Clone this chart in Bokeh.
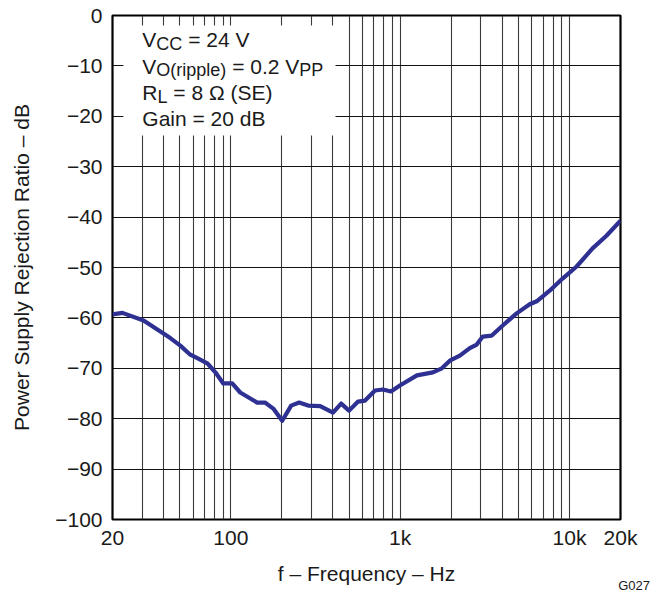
from bokeh.plotting import figure
from bokeh.layouts import column
from bokeh.models import Range1d, FixedTicker, Label, BoxAnnotation, Div
from bokeh.embed import file_html
from bokeh.resources import INLINE

# ---- data ----
freq_hz = [20, 22.9, 30.5, 36.8, 43.9, 50.3, 57.6, 63.4, 72.6, 81, 90.2, 101.9,
           113.6, 143, 159, 178, 201, 227, 253, 286, 337, 401, 448, 499, 564,
           620, 710, 791, 882, 996, 1256, 1560, 1762, 1964, 2250, 2577, 2832,
           3074, 3476, 4032, 4872, 5818, 6400, 7632, 9100, 11012, 13680, 16520,
           20000]
psrr_db = [-59.3, -59.0, -60.5, -62.3, -64.0, -65.5, -67.3, -68.0, -69.0, -70.8,
           -73.0, -73.0, -74.8, -76.8, -76.8, -78.0, -80.4, -77.4, -76.8, -77.4,
           -77.5, -78.8, -77.0, -78.4, -76.6, -76.4, -74.4, -74.2, -74.6, -73.4,
           -71.4, -70.8, -70.0, -68.5, -67.5, -66.0, -65.3, -63.7, -63.5, -61.5,
           -59.1, -57.3, -56.7, -54.6, -52.2, -49.8, -46.2, -43.7, -40.7]

x_tick_values = [20, 100, 1000, 10000, 20000]
x_tick_labels = ["20", "100", "1k", "10k", "20k"]
x_grid_values = [20, 30, 40, 50, 60, 70, 80, 90,
                 100, 200, 300, 400, 500, 600, 700, 800, 900,
                 1000, 2000, 3000, 4000, 5000, 6000, 7000, 8000, 9000,
                 10000, 20000]
y_tick_values = [-100, -90, -80, -70, -60, -50, -40, -30, -20, -10, 0]
y_tick_labels = ["\u2212100", "\u221290", "\u221280", "\u221270", "\u221260",
                 "\u221250", "\u221240", "\u221230", "\u221220", "\u221210", "0"]

FONT = "Liberation Sans"
F = 21   # main font px
S = 18   # subscript font px
CURVE = "#2e3192"
NB = "\u00a0"

p = figure(width=655, height=594, x_axis_type="log",
           x_range=Range1d(20, 20000), y_range=Range1d(-100, 0),
           output_backend="svg", toolbar_location=None,
           min_border_left=112, min_border_right=35,
           min_border_top=15, min_border_bottom=75)

p.background_fill_color = "white"
p.border_fill_color = "white"
p.outline_line_color = "black"
p.outline_line_width = 2.2

# grids
p.xgrid.ticker = FixedTicker(ticks=x_grid_values)
p.xgrid.grid_line_color = "#3a3a3a"
p.xgrid.grid_line_width = 1.1
p.ygrid.ticker = FixedTicker(ticks=y_tick_values)
p.ygrid.grid_line_color = "#111111"
p.ygrid.grid_line_width = 1.1

# axes
for ax in (p.xaxis[0], p.yaxis[0]):
    ax.axis_line_color = None
    ax.major_tick_line_color = None
    ax.minor_tick_line_color = None
    ax.major_label_text_font = FONT
    ax.major_label_text_font_size = f"{F}px"
    ax.major_label_text_color = "#1a1a1a"
    ax.axis_label_text_font = FONT
    ax.axis_label_text_font_size = f"{F}px"
    ax.axis_label_text_font_style = "normal"
    ax.axis_label_text_color = "#1a1a1a"

p.xaxis.ticker = FixedTicker(ticks=x_tick_values)
p.xaxis.major_label_overrides = {v: t for v, t in zip(x_tick_values, x_tick_labels)}
p.xaxis.major_label_standoff = 0
p.xaxis.axis_label = "f \u2013 Frequency \u2013 Hz"
p.xaxis.axis_label_standoff = 10

p.yaxis.ticker = FixedTicker(ticks=y_tick_values)
p.yaxis.major_label_overrides = {v: t for v, t in zip(y_tick_values, y_tick_labels)}
p.yaxis.major_label_standoff = 4
p.yaxis.axis_label = "Power Supply Rejection Ratio \u2013 dB"
p.yaxis.axis_label_standoff = 19

# curve
p.line(freq_hz, psrr_db, line_color=CURVE, line_width=4.2, line_join="round")

# white box behind condition text
p.add_layout(BoxAnnotation(left=23.2, right=415, top=-2.0, bottom=-23.8,
                           fill_color="white", fill_alpha=1.0,
                           line_color=None, level="overlay"))

# Arial / Liberation Sans advance widths (per em)
W = {"V": .667, "C": .722, " ": .278, NB: .278, "=": .584, "2": .556, "4": .556,
     "O": .778, "(": .333, "r": .333, "i": .222, "p": .556, "l": .222,
     "e": .556, ")": .333, "0": .556, ".": .278, "P": .667, "R": .722,
     "L": .556, "8": .556, "\u03a9": .768, "S": .667, "E": .667}


def width(s, size):
    return sum(W.get(c, .556) for c in s) * size


def rich_line(parts, x0, y0):
    off = 0.0
    for txt, sub in parts:
        size = S if sub else F
        yy = y0 - 0.8 if sub else y0
        p.add_layout(Label(x=x0, y=yy, x_offset=off, text=txt,
                           text_font=FONT, text_font_size=f"{size}px",
                           text_color="#1a1a1a", text_align="left",
                           text_baseline="alphabetic", level="overlay"))
        off += width(txt, size)


x0 = 30
rich_line([("V", False), ("CC", True), (NB + "= 24 V", False)], x0, -4.8)
rich_line([("V", False), ("O(ripple)", True), (NB + "= 0.2 V", False), ("PP", True)], x0, -10.1)
rich_line([("R", False), ("L", True), (NB + "= 8 \u03a9 (SE)", False)], x0, -15.3)
rich_line([("Gain = 20 dB", False)], x0, -20.5)

# figure id, placed in the bottom-right corner below the plot area
fig_id = Div(text="G027", width=60, height=16, margin=(-16, 0, 0, 590),
             styles={"font-family": "Liberation Sans", "font-size": "13px",
                     "text-align": "right", "color": "#1a1a1a",
                     "line-height": "16px"})

layout = column(p, fig_id, spacing=0)

open("out.html", "w").write(file_html(layout, INLINE))
